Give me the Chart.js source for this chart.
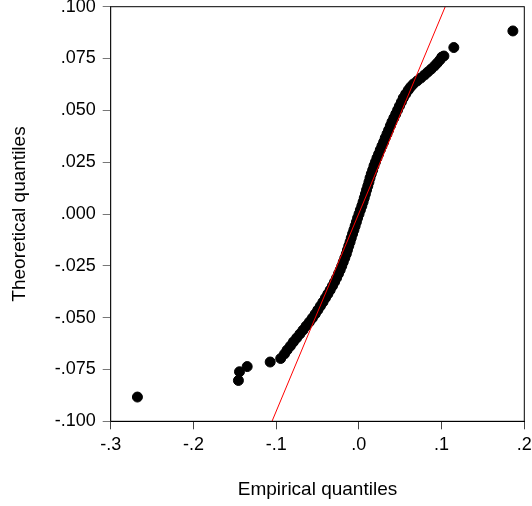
<!DOCTYPE html>
<html>
<head>
<meta charset="utf-8">
<script src="https://cdn.jsdelivr.net/npm/chart.js@4.4.1/dist/chart.umd.min.js"></script>
<style>
  html, body { margin: 0; padding: 0; background: #fff; }
  #wrap { width: 532px; height: 506px; position: relative; }
</style>
</head>
<body>
<div id="wrap"><canvas id="qq"></canvas></div>
<script>
// empirical quantiles (x) and theoretical quantiles (y)
const empiricalQ = [
    -0.2677, -0.1456, -0.1443, -0.1350, -0.1072,
    -0.0945, -0.0899, -0.0867, -0.0828, -0.0791, -0.0752, -0.0713, -0.0675, -0.0637, -0.0598,
    -0.0562, -0.0527, -0.0496, -0.0465, -0.0434, -0.0404, -0.0375, -0.0347, -0.0319, -0.0294,
    -0.0270, -0.0247, -0.0226, -0.0207, -0.0189, -0.0170, -0.0152, -0.0138, -0.0122, -0.0106,
    -0.0092, -0.0076, -0.0060, -0.0045, -0.0030, -0.0015, 0.0002, 0.0018, 0.0036, 0.0051,
    0.0065, 0.0079, 0.0093, 0.0108, 0.0122, 0.0135, 0.0150, 0.0167, 0.0183, 0.0201,
    0.0219, 0.0239, 0.0259, 0.0279, 0.0300, 0.0319, 0.0340, 0.0360, 0.0381, 0.0400,
    0.0423, 0.0446, 0.0469, 0.0491, 0.0514, 0.0537, 0.0566, 0.0598, 0.0626, 0.0659,
    0.0705, 0.0750, 0.0795, 0.0834, 0.0874, 0.0914, 0.0947, 0.0980, 0.1003,
    0.1028, 0.1148, 0.1862
];
const theoreticalQ = [
    -0.0883, -0.0803, -0.0761, -0.0736, -0.0714,
    -0.0697, -0.0675, -0.0656, -0.0637, -0.0617, -0.0598, -0.0579, -0.0560, -0.0540, -0.0521,
    -0.0502, -0.0482, -0.0463, -0.0444, -0.0425, -0.0405, -0.0386, -0.0367, -0.0347, -0.0328,
    -0.0309, -0.0289, -0.0270, -0.0251, -0.0232, -0.0212, -0.0193, -0.0174, -0.0154, -0.0135,
    -0.0116, -0.0096, -0.0077, -0.0058, -0.0039, -0.0019, 0.0000, 0.0019, 0.0039, 0.0058,
    0.0077, 0.0096, 0.0116, 0.0135, 0.0154, 0.0174, 0.0193, 0.0212, 0.0232, 0.0251,
    0.0270, 0.0289, 0.0309, 0.0328, 0.0347, 0.0367, 0.0386, 0.0405, 0.0425, 0.0444,
    0.0463, 0.0482, 0.0502, 0.0521, 0.0540, 0.0560, 0.0579, 0.0598, 0.0613, 0.0627,
    0.0642, 0.0656, 0.0671, 0.0685, 0.0699, 0.0714, 0.0728, 0.0743, 0.0757,
    0.0762, 0.0803, 0.0883
];

// reference line (red), end points where it meets the frame
const refLineX = [-0.105, 0.1044];
const refLineY = [-0.1, 0.1];

const xTicks = [-0.3, -0.2, -0.1, 0, 0.1, 0.2];
const xTickLabels = ['-.3', '-.2', '-.1', '.0', '.1', '.2'];
const yTicks = [-0.1, -0.075, -0.05, -0.025, 0, 0.025, 0.05, 0.075, 0.1];
const yTickLabels = ['-.100', '-.075', '-.050', '-.025', '.000', '.025', '.050', '.075', '.100'];

const FONT = "'Liberation Sans', Arial, Helvetica, sans-serif";

const framePlugin = {
    id: 'frame',
    afterDatasetsDraw(chart) {
        const { ctx, chartArea: a } = chart;
        ctx.save();
        ctx.strokeStyle = '#000';
        ctx.lineWidth = 1;
        ctx.strokeRect(a.left, a.top, a.right - a.left, a.bottom - a.top);
        ctx.restore();
    }
};

function buildPoints(xs, ys) {
    return xs.map((x, i) => ({ x: x, y: ys[i] }));
}

// fixed box size, and no extra room for half-labels at the ends
function fitBox(s, w, h) {
    if (w !== null) s.width = w;
    if (h !== null) s.height = h;
    s.paddingTop = 0;
    s.paddingBottom = 0;
    s.paddingLeft = 0;
    s.paddingRight = 0;
}

const ctx = document.getElementById('qq').getContext('2d');

new Chart(ctx, {
    type: 'scatter',
    data: {
        datasets: [
            {
                type: 'line',
                data: buildPoints(refLineX, refLineY),
                borderColor: '#ff0000',
                borderWidth: 1,
                pointRadius: 0,
                fill: false,
                order: 0
            },
            {
                data: buildPoints(empiricalQ, theoreticalQ),
                backgroundColor: '#000',
                borderColor: '#000',
                borderWidth: 1,
                pointRadius: 5,
                order: 1
            }
        ]
    },
    options: {
        responsive: true,
        maintainAspectRatio: false,
        animation: false,
        layout: { padding: { top: 6.7, right: 7.7, left: 0, bottom: 0 } },
        plugins: {
            legend: { display: false },
            tooltip: { enabled: false }
        },
        scales: {
            x: {
                type: 'linear',
                min: -0.3,
                max: 0.2,
                afterFit: s => fitBox(s, null, 84.7),
                afterBuildTicks: s => { s.ticks = xTicks.map(v => ({ value: v })); },
                ticks: {
                    callback: (v, i) => xTickLabels[i],
                    color: '#000',
                    padding: 5,
                    maxRotation: 0,
                    font: { family: FONT, size: 18 }
                },
                grid: { drawOnChartArea: false, tickLength: 8, color: '#444' },
                border: { color: '#000' },
                title: {
                    display: true,
                    text: 'Empirical quantiles',
                    color: '#000',
                    padding: { top: 0, bottom: 5 },
                    font: { family: FONT, size: 19 }
                }
            },
            y: {
                type: 'linear',
                min: -0.1,
                max: 0.1,
                afterFit: s => fitBox(s, 110.7, null),
                afterBuildTicks: s => { s.ticks = yTicks.map(v => ({ value: v })); },
                ticks: {
                    callback: (v, i) => yTickLabels[i],
                    color: '#000',
                    padding: 7,
                    font: { family: FONT, size: 18 }
                },
                grid: { drawOnChartArea: false, tickLength: 8, color: '#777' },
                border: { color: '#666' },
                title: {
                    display: true,
                    text: 'Theoretical quantiles',
                    color: '#000',
                    padding: { top: 8, bottom: 0 },
                    font: { family: FONT, size: 19 }
                }
            }
        }
    },
    plugins: [framePlugin]
});
</script>
</body>
</html>
